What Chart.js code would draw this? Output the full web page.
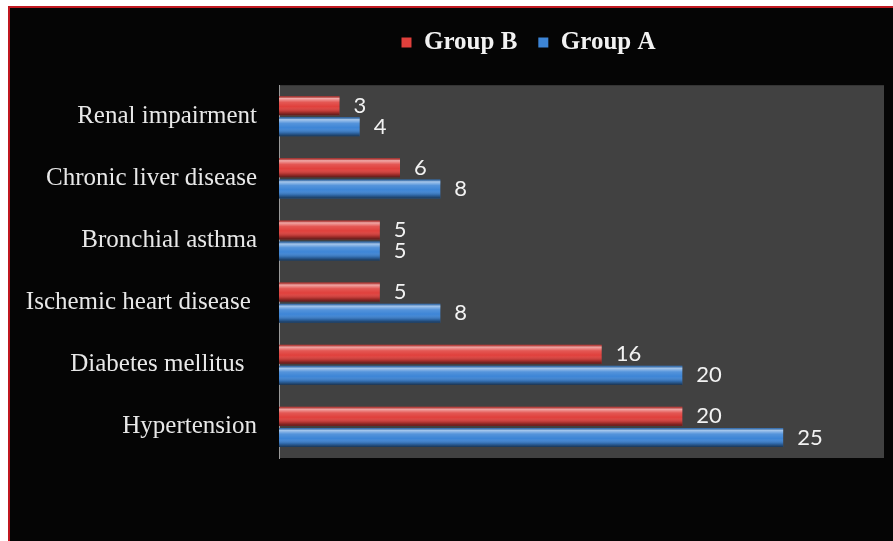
<!DOCTYPE html>
<html>
<head>
<meta charset="utf-8">
<script src="https://cdn.jsdelivr.net/npm/chart.js@4/dist/chart.umd.min.js"></script>
<style>
  html, body { margin: 0; padding: 0; background: #fff; }
  canvas { display: block; }
</style>
</head>
<body>
<canvas id="chart" width="893" height="541"></canvas>
<script>
// data
const categories = ['Renal impairment', 'Chronic liver disease', 'Bronchial asthma', 'Ischemic heart disease ', 'Diabetes mellitus  ', 'Hypertension'];
const groupB = [3, 6, 5, 5, 16, 20];
const groupA = [4, 8, 5, 8, 20, 25];
const seriesNames = ['Group B', 'Group A'];
const xRange = [0, 30];

// frame + gray plot area
const framePlugin = {
    id: 'frame',
    beforeDraw(chart) {
        const { ctx, width, height, chartArea: a } = chart;
        ctx.save();
        ctx.fillStyle = '#050505';
        ctx.fillRect(0, 0, width, height);
        ctx.fillStyle = '#ffffff';
        ctx.fillRect(0, 0, width, 6);
        ctx.fillRect(0, 0, 8, height);
        ctx.fillStyle = '#c01820';
        ctx.fillRect(8, 6, width - 8, 2);
        ctx.fillRect(8, 6, 2, height - 6);
        ctx.fillStyle = '#414141';
        ctx.fillRect(a.left, a.top, a.right - a.left, a.bottom - a.top);
        ctx.restore();
    },
    afterUpdate(chart) {
        // legend in the original sits right of centre
        const lg = chart.legend;
        lg.left += 82;
        lg.right += 82;
        lg.adjustHitBoxes();
    }
};

// glossy look on the bars + value labels
const barGloss = {
    id: 'barGloss',
    afterDatasetsDraw(chart) {
        const ctx = chart.ctx;
        ctx.save();
        chart.data.datasets.forEach((ds, di) => {
            const meta = chart.getDatasetMeta(di);
            meta.data.forEach((el, i) => {
                const h = el.height;
                const top = el.y - h / 2;
                const g = ctx.createLinearGradient(0, top, 0, top + h);
                g.addColorStop(0, 'rgba(0,0,0,0.15)');
                g.addColorStop(0.12, 'rgba(255,255,255,0.55)');
                g.addColorStop(0.32, 'rgba(255,255,255,0.12)');
                g.addColorStop(0.55, 'rgba(255,255,255,0)');
                g.addColorStop(0.82, 'rgba(0,0,0,0.22)');
                g.addColorStop(1, 'rgba(0,0,0,0.6)');
                ctx.fillStyle = g;
                ctx.fillRect(el.base, top, el.x - el.base, h);

                ctx.fillStyle = '#f2f2f2';
                ctx.font = '22px Lato';
                ctx.textAlign = 'left';
                ctx.textBaseline = 'middle';
                ctx.fillText(ds.data[i], el.x + 14, el.y);
            });
        });
        ctx.restore();
    }
};

new Chart(document.getElementById('chart'), {
    type: 'bar',
    data: {
        labels: categories,
        datasets: [
            { label: seriesNames[0], data: groupB, backgroundColor: '#e0403c', borderWidth: 0 },
            { label: seriesNames[1], data: groupA, backgroundColor: '#3d85d6', borderWidth: 0 }
        ]
    },
    options: {
        indexAxis: 'y',
        responsive: false,
        devicePixelRatio: 1,
        animation: false,
        categoryPercentage: 0.68,
        barPercentage: 0.9,
        layout: { padding: { left: 9, right: 9, top: 9, bottom: 83 } },
        plugins: {
            tooltip: { enabled: false },
            // empty title only used as a spacer under the legend
            title: {
                display: true,
                text: '',
                position: 'top',
                weight: 500,
                font: { size: 1 },
                padding: { top: 9, bottom: 10 }
            },
            legend: {
                position: 'top',
                labels: {
                    color: '#f2f2f2',
                    boxWidth: 10,
                    boxHeight: 10,
                    padding: 21,
                    font: { family: 'Liberation Serif', size: 25, weight: 'bold' }
                }
            }
        },
        scales: {
            x: { display: false, min: xRange[0], max: xRange[1] },
            y: {
                grid: { display: false, drawTicks: false },
                border: { display: true, color: '#9a9a9a', width: 1 },
                ticks: {
                    color: '#e8e8e8',
                    padding: 22,
                    font: { family: 'Liberation Serif', size: 25 }
                },
                afterFit(scale) { scale.width = 270; }
            }
        }
    },
    plugins: [framePlugin, barGloss]
});
</script>
</body>
</html>
